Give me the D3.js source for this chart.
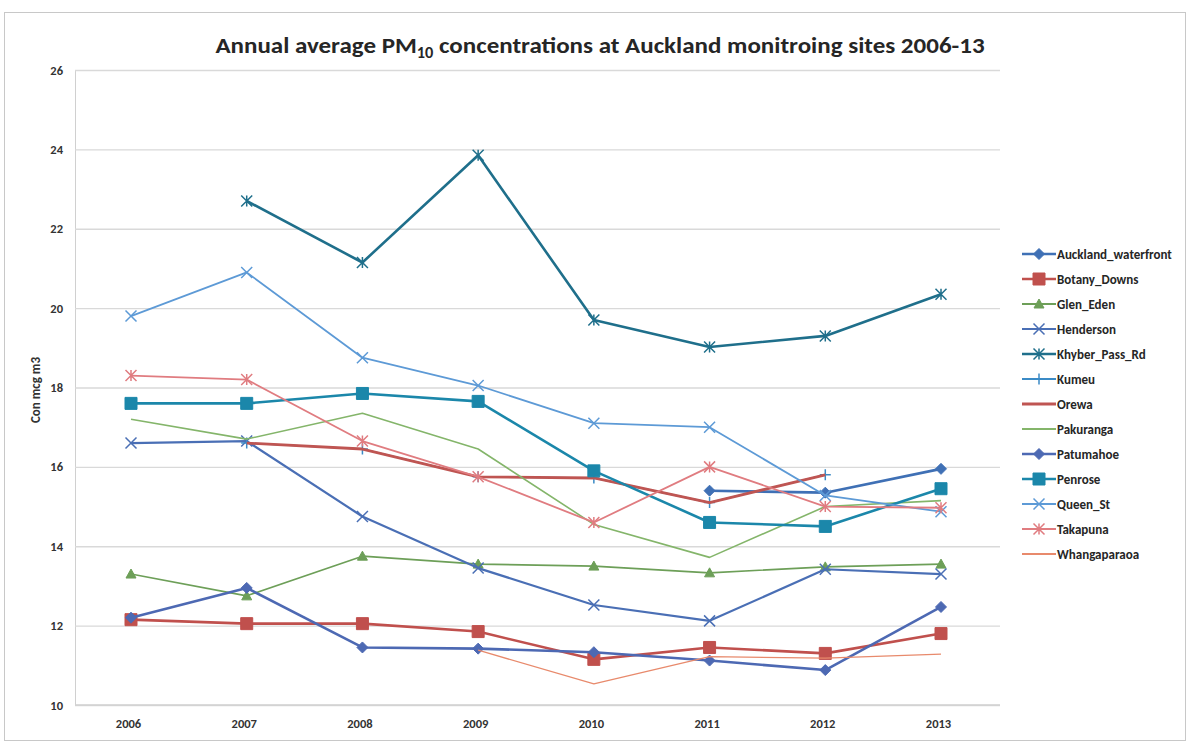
<!DOCTYPE html>
<html>
<head>
<meta charset="utf-8">
<script src="https://cdn.jsdelivr.net/npm/d3@7"></script>
<style>
  html, body { margin: 0; padding: 0; background: #fff; }
  svg { display: block; }
  text { font-family: Carlito, "Liberation Sans Narrow", "Open Sans", "DejaVu Sans", sans-serif; }
</style>
</head>
<body>
<svg id="chart" width="1190" height="744"></svg>
<script>
// ---------------- data ----------------
const years = [2006, 2007, 2008, 2009, 2010, 2011, 2012, 2013];
const yTicks = [10, 12, 14, 16, 18, 20, 22, 24, 26];

const siteNames = ["Auckland_waterfront", "Botany_Downs", "Glen_Eden", "Henderson", "Khyber_Pass_Rd",
  "Kumeu", "Orewa", "Pakuranga", "Patumahoe", "Penrose", "Queen_St", "Takapuna", "Whangaparaoa"];

const aucklandWaterfront = [null, null, null, null, null, 15.4, 15.35, 15.95];
const botanyDowns        = [12.15, 12.05, 12.05, 11.85, 11.15, 11.45, 11.3, 11.8];
const glenEden           = [13.3, 12.75, 13.75, 13.55, 13.5, 13.33, 13.48, 13.55];
const henderson          = [16.6, 16.65, 14.75, 13.45, 12.52, 12.12, 13.42, 13.3];
const khyberPassRd       = [null, 22.7, 21.15, 23.85, 19.7, 19.02, 19.3, 20.35];
const kumeu              = [null, 16.6, 16.45, 15.75, 15.72, 15.1, 15.8, null];
const orewa              = [null, 16.6, 16.45, 15.75, 15.72, 15.1, 15.8, null];
const pakuranga          = [17.2, 16.7, 17.35, 16.45, 14.55, 13.72, 15.0, 15.15];
const patumahoe          = [12.2, 12.95, 11.45, 11.42, 11.33, 11.12, 10.88, 12.47];
const penrose            = [17.6, 17.6, 17.85, 17.65, 15.9, 14.6, 14.5, 15.45];
const queenSt            = [19.8, 20.9, 18.75, 18.05, 17.1, 17.0, 15.28, 14.87];
const takapuna           = [18.3, 18.2, 16.65, 15.75, 14.6, 16.0, 15.0, 14.97];
const whangaparaoa       = [null, null, null, 11.38, 10.53, 11.22, 11.18, 11.28];

const seriesValues = [aucklandWaterfront, botanyDowns, glenEden, henderson, khyberPassRd,
  kumeu, orewa, pakuranga, patumahoe, penrose, queenSt, takapuna, whangaparaoa];

// ---------------- styles ----------------
const colors  = ["#3f70b5", "#c0504d", "#6d9f58", "#4a6fb5", "#1f6f8b", "#3b8bc6", "#bf5552",
                 "#84b56a", "#4d69b3", "#1b87aa", "#5d9ad6", "#e07c80", "#e88a6c"];
const symbols = ["diamond", "square", "triangle", "x", "asterisk", "plus", "none",
                 "none", "diamond", "square", "x", "asterisk", "none"];
const widths  = [2.6, 2.6, 1.6, 2.2, 2.6, 1.6, 2.8, 1.6, 2.6, 2.6, 1.8, 1.8, 1.3];

const series = siteNames.map((name, i) => ({
  name, values: seriesValues[i], color: colors[i], symbol: symbols[i], width: widths[i]
}));

// ---------------- layout ----------------
const svg = d3.select("#chart");
const plotLeft = 75, plotRight = 1000, plotTop = 70, plotBottom = 705;

const x = d3.scalePoint().domain(years).range([131, 941]);
const y = d3.scaleLinear().domain([10, 26]).range([plotBottom, plotTop]);

// outer frame
svg.append("rect").attr("x", 4.5).attr("y", 12.5).attr("width", 1181).attr("height", 728)
  .attr("fill", "none").attr("stroke", "#c8c8c8").attr("stroke-width", 1);

// title
const title = svg.append("text")
  .attr("x", 600).attr("y", 53)
  .attr("text-anchor", "middle")
  .attr("font-size", 23).attr("font-weight", "bold").attr("fill", "#262626");
title.append("tspan").text("Annual average PM");
title.append("tspan").attr("font-size", 15).attr("dy", 5).text("10");
title.append("tspan").attr("dy", -5).text(" concentrations at Auckland monitroing sites 2006-13");
{
  const bb = title.node().getBBox();
  const targetW = 770, cx = 600;
  const s = targetW / bb.width;
  title.attr("transform", `translate(${cx},0) scale(${s},1) translate(${-cx},0)`);
}

// gridlines
const yAxis = d3.axisLeft(y).tickValues(yTicks).tickSize(-(plotRight - plotLeft)).tickPadding(12).tickFormat(d3.format("d"));
const gy = svg.append("g").attr("transform", `translate(${plotLeft},0)`).call(yAxis);
gy.select(".domain").attr("stroke", "#d0d0d0");
gy.selectAll(".tick line").attr("stroke", "#d9d9d9").attr("stroke-width", 1.3);
gy.selectAll(".tick text").attr("font-size", 12.5).attr("font-weight", "bold").attr("fill", "#333");

const xAxis = d3.axisBottom(x).tickSize(0).tickPadding(14);
const gx = svg.append("g").attr("transform", `translate(0,${plotBottom})`).call(xAxis);
gx.select(".domain").attr("d", `M${plotLeft},0H${plotRight}`).attr("stroke", "#d0d0d0").attr("stroke-width", 1.3);
gx.selectAll(".tick text").attr("font-size", 12.5).attr("font-weight", "bold").attr("fill", "#333")
  .attr("dx", -3);

// y axis title
svg.append("text")
  .attr("transform", "translate(40,390) rotate(-90)")
  .attr("text-anchor", "middle")
  .attr("font-size", 13).attr("font-weight", "bold").attr("fill", "#333")
  .text("Con mcg m3");

// ---------------- markers ----------------
function markerPath(type, size) {
  const r = size / 2;
  switch (type) {
    case "diamond":  return `M0,${-r}L${r},0L0,${r}L${-r},0Z`;
    case "square":   return `M${-r},${-r}H${r}V${r}H${-r}Z`;
    case "triangle": return `M0,${-r}L${r},${r * 0.8}H${-r}Z`;
    case "x":        return `M${-r},${-r}L${r},${r}M${-r},${r}L${r},${-r}`;
    case "asterisk": return `M${-r},${-r}L${r},${r}M${-r},${r}L${r},${-r}M0,${-r}V${r}`;
    case "plus":     return `M${-r},0H${r}M0,${-r}V${r}`;
    default:         return "";
  }
}
const markerSize = { diamond: 11, square: 12, triangle: 10, x: 11, asterisk: 11, plus: 11 };
function drawMarker(g, s, px, py) {
  if (s.symbol === "none") return;
  const filled = ["diamond", "square", "triangle"].includes(s.symbol);
  g.append("path")
    .attr("transform", `translate(${px},${py})`)
    .attr("d", markerPath(s.symbol, markerSize[s.symbol]))
    .attr("fill", filled ? s.color : "none")
    .attr("stroke", s.color)
    .attr("stroke-width", filled ? 1 : 1.5);
}

// ---------------- lines ----------------
const line = d3.line()
  .defined(d => d.v !== null)
  .x(d => x(d.year))
  .y(d => y(d.v));

const plot = svg.append("g");
series.forEach(s => {
  const pts = years.map((yr, i) => ({ year: yr, v: s.values[i] }));
  const g = plot.append("g");
  g.append("path").datum(pts)
    .attr("d", line)
    .attr("fill", "none")
    .attr("stroke", s.color)
    .attr("stroke-width", s.width)
    .attr("stroke-linejoin", "round");
  pts.filter(d => d.v !== null).forEach(d => drawMarker(g, s, x(d.year), y(d.v)));
});

// ---------------- legend ----------------
const legend = svg.append("g");
series.forEach((s, i) => {
  const ly = 254 + i * 25;
  const g = legend.append("g");
  g.append("line").attr("x1", 1022).attr("x2", 1056).attr("y1", ly).attr("y2", ly)
    .attr("stroke", s.color).attr("stroke-width", Math.max(2, s.width));
  drawMarker(g, s, 1039, ly);
  g.append("text").attr("x", 1057).attr("y", ly + 4.5)
    .attr("font-size", 13).attr("font-weight", "bold").attr("fill", "#262626")
    .text(s.name);
});
</script>
</body>
</html>
